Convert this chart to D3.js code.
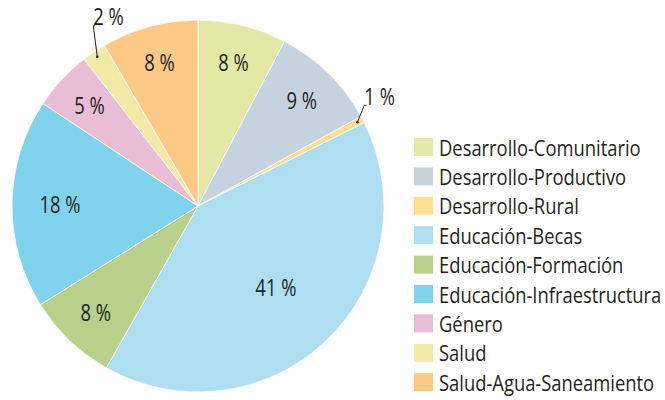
<!DOCTYPE html>
<html>
<head>
<meta charset="utf-8">
<script src="https://cdn.jsdelivr.net/npm/d3@7"></script>
<style>
  body { margin: 0; background: #fff; }
  svg text { font-family: "Open Sans", sans-serif; fill: #231f20; }
</style>
</head>
<body>
<div id="chart"></div>
<script>
// slice order runs clockwise from 12 o'clock
const categories = [
  'Desarrollo-Comunitario', 'Desarrollo-Productivo', 'Desarrollo-Rural',
  'Educación-Becas', 'Educación-Formación', 'Educación-Infraestructura',
  'Género', 'Salud', 'Salud-Agua-Saneamiento'
];
const shares = [7.7, 9.3, 0.6, 40.6, 7.9, 18.2, 5.2, 2.1, 8.4];
const labels = ['8 %', '9 %', '1 %', '41 %', '8 %', '18 %', '5 %', '2 %', '8 %'];
const colors = ['#e3e9a5', '#c5d3df', '#fddf8f', '#aedff0', '#b9d08a', '#7fd3ed', '#eabdd7', '#f3eaa5', '#fdc986'];

const width = 665, height = 400;
const cx = 198, cy = 206, radius = 186;
// the original typeface is a condensed one, squeeze Open Sans to match
const labelSqueeze = 0.8, legendSqueeze = 0.875;

const svg = d3.select('#chart').append('svg')
  .attr('width', width).attr('height', height);

const data = categories.map((c, i) => ({ name: c, value: shares[i], label: labels[i], color: colors[i] }));

const pie = d3.pie().sort(null).value(d => d.value);
const arcs = pie(data);
const arc = d3.arc().innerRadius(0).outerRadius(radius);

const g = svg.append('g').attr('transform', `translate(${cx},${cy})`);

g.selectAll('path')
  .data(arcs)
  .join('path')
  .attr('d', arc)
  .attr('fill', d => d.data.color)
  .attr('stroke', '#fff')
  .attr('stroke-width', 0.8);

const mid = d => (d.startAngle + d.endAngle) / 2;
const polar = (a, r) => [Math.sin(a) * r, -Math.cos(a) * r];

// labels inside the bigger slices
const inside = arcs.filter(d => d.data.value >= 3);
g.selectAll('text.inner')
  .data(inside)
  .join('text')
  .attr('class', 'inner')
  .attr('transform', d => {
    const r = d.data.value > 30 ? 113 : d.data.value > 15 ? 138 : 148;
    const p = polar(mid(d), r);
    return `translate(${p[0]},${p[1]}) scale(${labelSqueeze},1)`;
  })
  .attr('text-anchor', 'middle')
  .attr('dy', '0.36em')
  .attr('font-size', 23)
  .text(d => d.data.label);

// tiny slices get a leader line
const outside = arcs.filter(d => d.data.value < 3);
outside.forEach(d => {
  const a = mid(d);
  const p0 = polar(a, 180);
  const right = Math.sin(a) > 0;
  const p1 = right ? [p0[0] + 7, p0[1] - 17] : [p0[0] - 4, p0[1] - 31];
  g.append('circle').attr('cx', p0[0]).attr('cy', p0[1]).attr('r', 1.3).attr('fill', '#231f20');
  g.append('path')
    .attr('d', d3.line()([p0, p1, [p1[0] + 2, p1[1]]]))
    .attr('fill', 'none')
    .attr('stroke', '#231f20')
    .attr('stroke-width', 1);
  g.append('text')
    .attr('transform', `translate(${p1[0]},${p1[1] - 9}) scale(${labelSqueeze},1)`)
    .attr('dy', '0.36em')
    .attr('font-size', 23)
    .text(d.data.label);
});

// legend
const y = d3.scaleBand().domain(categories).range([138, 138 + 29.4 * 9]);
const legend = svg.append('g').attr('transform', 'translate(414,0)');
const item = legend.selectAll('g')
  .data(data)
  .join('g')
  .attr('transform', d => `translate(0,${y(d.name)})`);
item.append('rect')
  .attr('width', 19).attr('height', 18)
  .attr('fill', d => d.color);
item.append('text')
  .attr('transform', `translate(25,10) scale(${legendSqueeze},1)`)
  .attr('dy', '0.36em')
  .attr('font-size', 21)
  .text(d => d.name);
</script>
</body>
</html>
